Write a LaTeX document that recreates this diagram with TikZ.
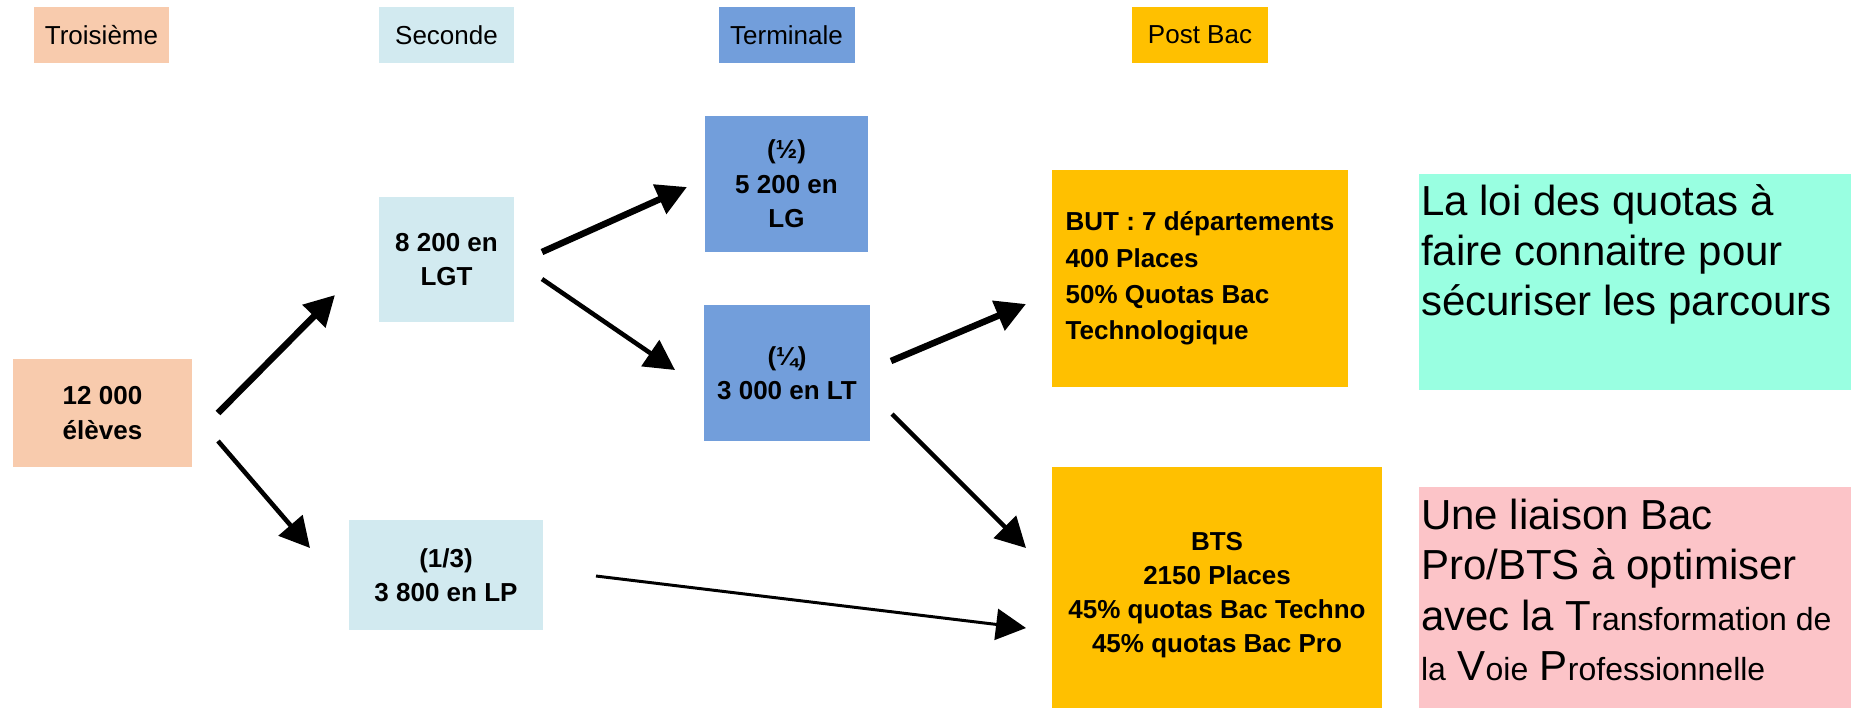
\documentclass[tikz,border=0pt]{standalone}
\usepackage{fontspec}
\setmainfont{Liberation Sans}
\usetikzlibrary{arrows.meta}
\definecolor{peachBox}{HTML}{F8CBAD}
\definecolor{paleBlue}{HTML}{D2EAF0}
\definecolor{midBlue}{HTML}{729EDB}
\definecolor{goldBox}{HTML}{FFC000}
\definecolor{mintNote}{HTML}{99FFE1}
\definecolor{roseNote}{HTML}{FCC4C8}
\newcommand{\lowtxt}[1]{{\fontsize{18.2pt}{28.7pt}\selectfont #1}}

\begin{document}
\begin{tikzpicture}[x=0.02cm, y=-0.02cm,
    headbox/.style={rectangle, inner sep=0pt, minimum width=2.72cm, minimum height=1.12cm, font=\fontsize{14.8pt}{17pt}\selectfont},
    cell/.style={rectangle, inner sep=0pt, align=center, font=\bfseries\fontsize{14.8pt}{19.6pt}\selectfont},
    flow/.style={-{Triangle[length=0.6cm, width=0.62cm]}, line width=#1},
    flow/.default=2.6pt,
    note/.style={rectangle, inner xsep=0.04cm, inner ysep=0pt, font=\fontsize{23.9pt}{28.7pt}\selectfont}]
    \useasboundingbox (0,0) rectangle (1851,708);

    % column headings
    \foreach \lbl/\cx/\col [count=\i] in {Troisième/101.5/peachBox, Seconde/446.5/paleBlue, Terminale/786.5/midBlue, Post Bac/1200/goldBox} {
        \node[headbox, fill=\col] (head\i) at (\cx,35) {\lbl};
    }

    % pupils per stream
    \node[cell, fill=peachBox, minimum width=3.58cm, minimum height=2.16cm] (eleves) at (102.5,413) {12 000\\élèves};
    \node[cell, fill=paleBlue, minimum width=2.7cm, minimum height=2.5cm] (lgt) at (446.5,259.5) {8 200 en\\LGT};
    \node[cell, fill=paleBlue, minimum width=3.88cm, minimum height=2.2cm] (lp) at (446,575) {(1/3)\\3 800 en LP};
    \node[cell, fill=midBlue, minimum width=3.26cm, minimum height=2.72cm] (lg) at (786.5,184) {(½)\\5 200 en\\LG};
    \node[cell, fill=midBlue, minimum width=3.33cm, minimum height=2.71cm] (lt) at (787,373) {(¼)\\3 000 en LT};
    \node[cell, fill=goldBox, align=left, font=\bfseries\fontsize{14.8pt}{20.7pt}\selectfont, minimum width=5.92cm, minimum height=4.34cm] (but) at (1200,278.5) {BUT : 7 départements\\400 Places\\50\% Quotas Bac\\Technologique};
    % strut on the first line pushes the block a little lower
    \node[cell, fill=goldBox, font=\bfseries\fontsize{14.8pt}{19.3pt}\selectfont, minimum width=6.6cm, minimum height=4.82cm] (bts) at (1217,587.5) {\rule{0pt}{18.7pt}BTS\\2150 Places\\45\% quotas Bac Techno\\45\% quotas Bac Pro};

    % remarks
    \node[note, fill=mintNote] (quotas) at (1635,282) {\parbox[c][4.32cm][t]{8.56cm}{\raggedright\rule{0pt}{0.82cm}La loi des quotas à\\faire connaitre pour\\sécuriser les parcours}};
    \node[note, fill=roseNote] (liaison) at (1635,597.5) {\parbox[c][4.42cm][t]{8.56cm}{\raggedright\rule{0pt}{0.85cm}Une liaison Bac\\Pro/BTS à optimiser\\avec la T\lowtxt{ransformation de}\\\lowtxt{la} V\lowtxt{oie} P\lowtxt{rofessionnelle}}};

    % arrow ends
    \coordinate (elevesUp) at (218,413);
    \coordinate (elevesDown) at (218,441);
    \coordinate (lgtUp) at (542,252);
    \coordinate (lgtDown) at (542,279);
    \coordinate (ltUp) at (891,361);
    \coordinate (ltDown) at (892,414);
    \coordinate (lpOut) at (596,576);
    \coordinate (lgtIn) at (335,295);
    \coordinate (lpIn) at (310,548);
    \coordinate (lgIn) at (687,187);
    \coordinate (ltIn) at (675,370);
    \coordinate (butIn) at (1026,304);
    \coordinate (btsInHigh) at (1026,548);
    \coordinate (btsInLow) at (1026,628);

    \foreach \s/\e/\w in {elevesUp/lgtIn/3.7pt, elevesDown/lpIn/2.6pt, lgtUp/lgIn/3.7pt, lgtDown/ltIn/2.6pt, ltUp/butIn/3.7pt, ltDown/btsInHigh/2.6pt, lpOut/btsInLow/1.7pt} {
        \draw[flow=\w] (\s) -- (\e);
    }
\end{tikzpicture}
\end{document}
